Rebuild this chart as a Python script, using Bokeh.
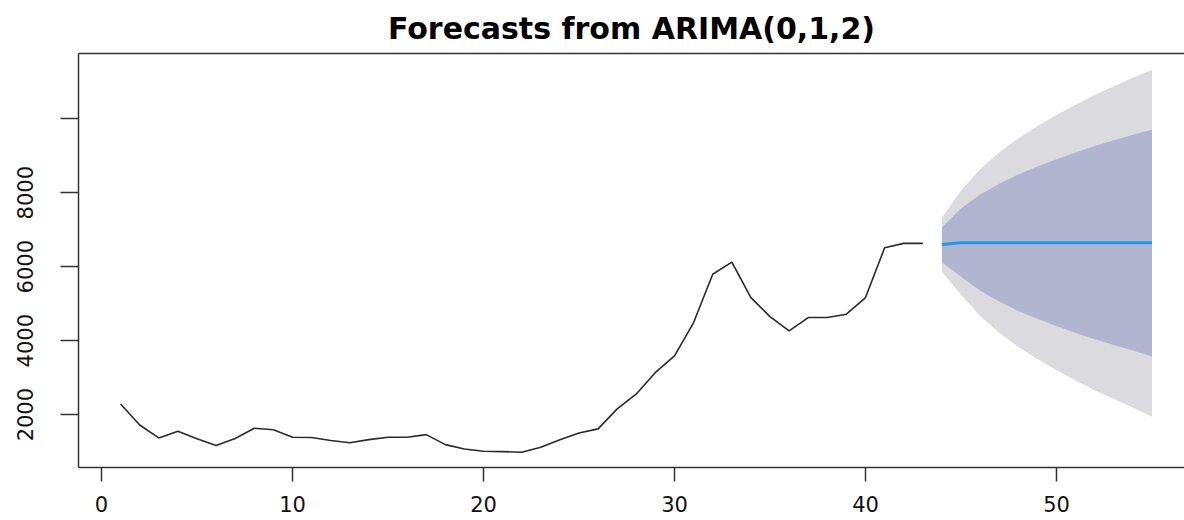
from bokeh.plotting import figure
from bokeh.models import Range1d, FixedTicker, LinearAxis
from bokeh.embed import file_html
from bokeh.resources import INLINE

# Observed series (t = 1..43)
hist_t = list(range(1, 44))
hist_y = [2290, 1720, 1370, 1550, 1350, 1165, 1355, 1630, 1590, 1390,
          1380, 1300, 1240, 1325, 1390, 1390, 1460, 1190, 1070, 1010,
          1000, 985, 1120, 1320, 1505, 1615, 2155, 2560, 3140, 3590,
          4490, 5795, 6125, 5165, 4650, 4265, 4625, 4625, 4715, 5165,
          6510, 6630, 6630]

# Forecast (t = 44..55)
fc_t = list(range(44, 56))
fc_mean = [6600, 6650, 6650, 6650, 6650, 6650, 6650, 6650, 6650, 6650, 6650, 6650]
hi95 = [7320, 8060, 8635, 9085, 9470, 9795, 10100, 10380, 10640, 10880, 11105, 11325]
lo95 = [5860, 5240, 4665, 4215, 3830, 3505, 3200, 2920, 2660, 2420, 2195, 1940]
hi80 = [7060, 7570, 7950, 8240, 8495, 8705, 8905, 9090, 9260, 9415, 9565, 9705]
lo80 = [6120, 5730, 5350, 5060, 4805, 4595, 4395, 4210, 4040, 3885, 3735, 3570]

x_ticks = [0, 10, 20, 30, 40, 50]
y_ticks = [2000, 4000, 6000, 8000, 10000]
title_text = "Forecasts from ARIMA(0,1,2)"

FONT = "DejaVu Sans"
AX = "#333333"

p = figure(width=1184, height=520, output_backend="svg", toolbar_location=None,
           x_range=Range1d(-1.204, 56.70), y_range=Range1d(571, 11763),
           min_border_left=78, min_border_right=0, min_border_top=52,
           min_border_bottom=53, title=title_text)

p.title.text_font = FONT
p.title.text_font_size = "30px"
p.title.text_font_style = "bold"
p.title.align = "center"
p.title.text_color = "#000000"
p.title.standoff = 16

p.grid.visible = False
p.background_fill_color = "white"
p.border_fill_color = "white"
p.outline_line_color = None

top = LinearAxis(ticker=FixedTicker(ticks=[]), axis_line_color=AX, axis_line_width=1.5,
                 major_tick_out=0, major_tick_in=0, minor_tick_out=0, minor_tick_in=0,
                 major_label_text_font_size="0px", major_label_standoff=0)
p.add_layout(top, "above")

p.varea(x=fc_t, y1=lo95, y2=hi95, fill_color="#DBDBDF")
p.varea(x=fc_t, y1=lo80, y2=hi80, fill_color="#B1B5D0")
p.line(hist_t, hist_y, line_color="#2a2a2a", line_width=1.6)
p.line(fc_t, fc_mean, line_color="#2297E6", line_width=3)

xa = p.below[0]
xa.ticker = FixedTicker(ticks=x_ticks)
xa.major_tick_out = 14
xa.major_tick_in = 0
xa.minor_tick_out = 0
xa.minor_tick_in = 0
xa.axis_line_color = AX
xa.axis_line_width = 1.5
xa.major_tick_line_color = AX
xa.major_tick_line_width = 1.5
xa.major_label_text_font = FONT
xa.major_label_text_font_size = "21px"
xa.major_label_text_color = "#111111"
xa.major_label_standoff = 14

ya = p.left[0]
ya.ticker = FixedTicker(ticks=y_ticks)
ya.major_label_overrides = {10000: ""}
ya.major_tick_out = 18
ya.major_tick_in = 0
ya.minor_tick_out = 0
ya.minor_tick_in = 0
ya.axis_line_color = AX
ya.axis_line_width = 1.5
ya.major_tick_line_color = AX
ya.major_tick_line_width = 1.5
ya.major_label_text_font = FONT
ya.major_label_text_font_size = "21px"
ya.major_label_text_color = "#111111"
ya.major_label_orientation = "parallel"
ya.major_label_standoff = 27

open("out.html", "w").write(file_html(p, INLINE))
